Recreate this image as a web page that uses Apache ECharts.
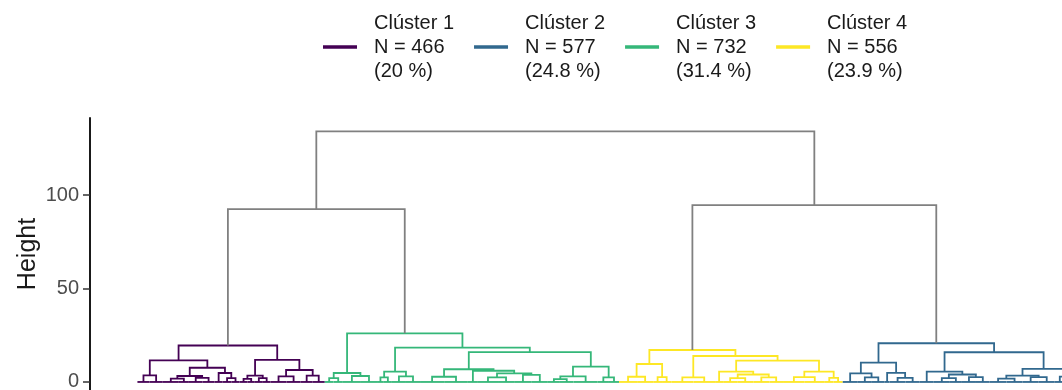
<!DOCTYPE html>
<html>
<head>
<meta charset="utf-8">
<script src="https://cdn.jsdelivr.net/npm/echarts@6/dist/echarts.min.js"></script>
<style>
  html, body { margin: 0; padding: 0; background: #fff; }
  #chart { width: 1062px; height: 390px; }
</style>
</head>
<body>
<div id="chart"></div>
<script>
const clusterNames = ['Clúster 1', 'Clúster 2', 'Clúster 3', 'Clúster 4'];
const clusterN = [466, 577, 732, 556];
const clusterPct = ['20', '24.8', '31.4', '23.9'];
const clusterColors = ['#440154', '#31688E', '#35B779', '#FDE725'];
const yTicks = [0, 50, 100];

// merges: [height, left, right]; a plain number is a bundle of that many observations
const tree1 = [19.5,
  [11.5,
    [3.5, 30, 33],
    [7.6, [3.2, [1.8, 40, 25], [2.2, 34, 30]], [4.8, 20, [2, 22, 20]]]],
  [11.8,
    [3.4, [1.6, 20, 18], [2, 20, 19]],
    [6.4, [3, 40, 35], [3.4, 30, 30]]]];
const tree2 = [20.7,
  [10.3,
    [4.6, 38, [2.4, 35, 32]],
    [4.9, 12, [2.2, 40, 35]]],
  [15.9,
    [5.5, 35, [4, [2, 40, 30], [2.6, 35, 34]]],
    [7, [3.4, [1.8, 42, 40], [2.6, 40, 40]], [2.9, 25, 24]]]];
const tree3 = [26,
  [4.8, [2, 22, 23], [3.2, 45, 40]],
  [18.4,
    [5.5, [2.4, 17, 20], [3, 35, 35]],
    [16,
      [6.8, [2.8, 60, 59], [6, 25, [4.6, [2.5, 50, 40], [3.8, 44, 40]]]],
      [8.2, [3, [1.5, 30, 34], 60], [2.5, 28, 25]]]]];
const tree4 = [17.1,
  [9.6, [2.8, 45, 40], [2.6, 22, 23]],
  [13.9,
    [2.4, 55, 54],
    [11.4,
      [5.5, 20, [4, [2, 35, 40], [2.4, 40, 34]]],
      [5.5, [2.6, 54, 50], [2.2, 22, 22]]]]];
const clusterTrees = [tree1, tree2, tree3, tree4];
const root = [134, [92.5, tree1, tree3], [94.6, tree4, tree2]];

// one list of links per cluster, last one for the grey upper links
const links = [[], [], [], [], []];
function place(node, start, c) {
  const k = clusterTrees.indexOf(node);
  if (k >= 0) c = k;
  if (typeof node === 'number') {
    links[c].push({ coords: [[start, 0], [start + node, 0]] });
    return { x: start + node / 2, h: 0, n: node };
  }
  const a = place(node[1], start, c);
  const b = place(node[2], start + a.n, c);
  const h = node[0];
  links[c].push({ coords: [[a.x, a.h], [a.x, h], [b.x, h], [b.x, b.h]] });
  return { x: (a.x + b.x) / 2, h: h, n: a.n + b.n };
}
place(root, 0, 4);

const chart = echarts.init(document.getElementById('chart'));
const font = 'Liberation Sans, Arial, sans-serif';

const series = links.map((data, i) => ({
  type: 'lines',
  name: i < 4 ? clusterNames[i] : 'links',
  coordinateSystem: 'cartesian2d',
  polyline: true,
  silent: true,
  data: data,
  color: i < 4 ? clusterColors[i] : '#808080',
  lineStyle: { color: i < 4 ? clusterColors[i] : '#808080', width: 1.8, opacity: 1 }
}));

chart.setOption({
  animation: false,
  backgroundColor: '#ffffff',
  textStyle: { fontFamily: font },
  grid: { left: 90, right: 0, top: 118, bottom: 0, outerBoundsMode: 'none' },
  legend: {
    left: 318,
    top: 6,
    itemWidth: 32,
    itemHeight: 1.5,
    itemGap: 20,
    icon: 'rect',
    data: clusterNames.map((n, i) => ({ name: n, icon: 'rect', itemStyle: { color: clusterColors[i] } })),
    formatter: name => {
      const i = clusterNames.indexOf(name);
      return name + '\nN = ' + clusterN[i] + '\n(' + clusterPct[i] + ' %)';
    },
    textStyle: { fontFamily: font, fontSize: 20, lineHeight: 24, color: '#1a1a1a', padding: [0, 0, 0, 13] }
  },
  xAxis: { type: 'value', min: -118, max: 2300, show: false },
  yAxis: {
    type: 'value',
    min: -4.3,
    max: 141.2,
    name: 'Height',
    nameLocation: 'middle',
    nameGap: 49,
    nameMoveOverlap: false,
    nameTextStyle: { fontFamily: font, fontSize: 25, color: '#1a1a1a' },
    axisLine: { show: true, onZero: false, lineStyle: { color: '#1a1a1a', width: 2 } },
    axisTick: { show: true, length: 7, customValues: yTicks, lineStyle: { color: '#333333', width: 1.5 } },
    axisLabel: { customValues: yTicks, fontFamily: font, fontSize: 20, color: '#4d4d4d', margin: 11 },
    splitLine: { show: false }
  },
  series: series
});
</script>
</body>
</html>
